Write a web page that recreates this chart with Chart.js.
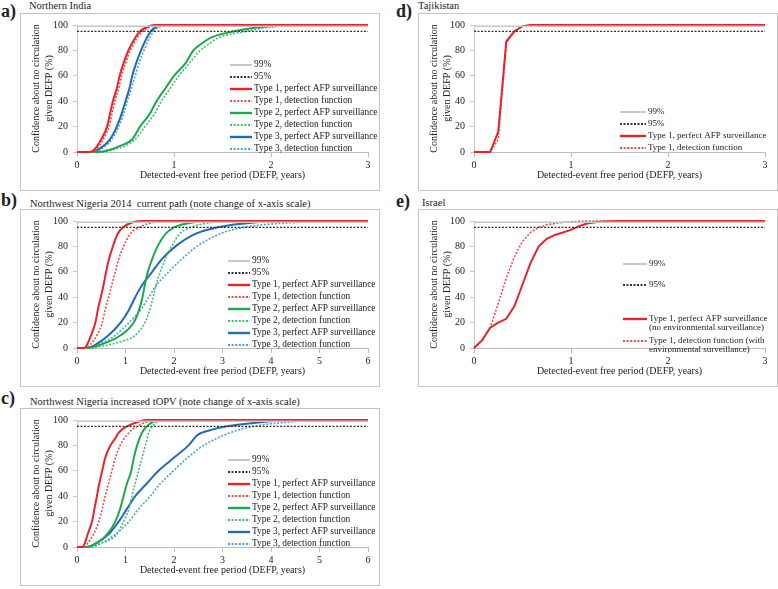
<!DOCTYPE html>
<html>
<head>
<meta charset="utf-8">
<script src="https://cdn.jsdelivr.net/npm/chart.js@4/dist/chart.umd.min.js"></script>
<style>
body { margin:0; background:#fff; width:778px; height:589px; position:relative; overflow:hidden; font-family:"Liberation Serif", "Times New Roman", serif; color:#222; }
.tag { position:absolute; font-weight:bold; font-size:18px; line-height:1; }
.ttl { position:absolute; font-size:10.5px; line-height:1; white-space:pre; }
.box { position:absolute; border:1px solid #c4c4c4; width:358px; height:176px; }
.box canvas { display:block; }
</style>
</head>
<body>

<div class="tag" style="left:1px;top:2px">a)</div>
<div class="ttl" style="left:29px;top:1px">Northern India</div>
<div class="box" style="left:20px;top:13px"><canvas id="pa" width="358" height="176"></canvas></div>

<div class="tag" style="left:1px;top:191px">b)</div>
<div class="ttl" style="left:30px;top:199px">Northwest Nigeria 2014  current path (note change of x-axis scale)</div>
<div class="box" style="left:20px;top:209px"><canvas id="pb" width="358" height="176"></canvas></div>

<div class="tag" style="left:1px;top:389px">c)</div>
<div class="ttl" style="left:30px;top:397px">Northwest Nigeria increased tOPV (note change of x-axis scale)</div>
<div class="box" style="left:20px;top:408px"><canvas id="pc" width="358" height="176"></canvas></div>

<div class="tag" style="left:396px;top:2px">d)</div>
<div class="ttl" style="left:418px;top:1px">Tajikistan</div>
<div class="box" style="left:418px;top:13px"><canvas id="pd" width="358" height="176"></canvas></div>

<div class="tag" style="left:396px;top:192px">e)</div>
<div class="ttl" style="left:422px;top:198px">Israel</div>
<div class="box" style="left:418px;top:209px"><canvas id="pe" width="358" height="176"></canvas></div>

<script>
// values: [years, confidence %]
var labelsABC = ["99%", "95%",
  "Type 1, perfect AFP surveillance", "Type 1, detection function",
  "Type 2, perfect AFP surveillance", "Type 2, detection function",
  "Type 3, perfect AFP surveillance", "Type 3, detection function"];
var labelsD = ["99%", "95%", "Type 1, perfect AFP surveillance", "Type 1, detection function"];
var labelsE = ["99%", "95%",
  "Type 1, perfect AFP surveillance\n(no environmental surveillance)",
  "Type 1, detection function (with\nenvironmental surveillance)"];
var xTicksShort = [0, 1, 2, 3];
var xTicksLong = [0, 1, 2, 3, 4, 5, 6];

// a) Northern India
var a_t1p = [[0,0],[0.13,0],[0.18,2],[0.25,10],[0.31,20],[0.34,30],[0.37,40],[0.41,50],[0.44,60],[0.48,70],[0.53,80],[0.6,90],[0.65,95],[0.74,99],[0.82,100],[3,100]];
var a_t1d = [[0,0],[0.14,0],[0.2,2],[0.27,10],[0.33,20],[0.36,30],[0.39,40],[0.43,50],[0.46,60],[0.5,70],[0.55,80],[0.62,90],[0.68,95],[0.77,99],[0.85,100],[3,100]];
var a_t2p = [[0,0],[0.2,0],[0.35,2],[0.45,5],[0.57,10],[0.65,20],[0.75,30],[0.82,40],[0.91,50],[1.0,60],[1.12,70],[1.2,80],[1.28,85],[1.38,90],[1.62,95],[1.85,98],[2.0,99],[2.3,100],[3,100]];
var a_t2d = [[0,0],[0.22,0],[0.38,2],[0.5,5],[0.6,10],[0.7,20],[0.8,30],[0.87,40],[0.96,50],[1.05,60],[1.16,70],[1.27,80],[1.36,85],[1.46,90],[1.75,95],[1.95,98],[2.1,99],[2.5,100],[3,100]];
var a_t3p = [[0,0],[0.15,0],[0.22,2],[0.34,10],[0.41,20],[0.46,30],[0.5,40],[0.54,50],[0.57,60],[0.61,70],[0.66,80],[0.72,90],[0.76,95],[0.83,99],[0.92,100],[3,100]];
var a_t3d = [[0,0],[0.16,0],[0.24,2],[0.36,10],[0.43,20],[0.48,30],[0.52,40],[0.56,50],[0.6,60],[0.64,70],[0.69,80],[0.75,90],[0.79,95],[0.87,99],[0.95,100],[3,100]];

// b) Northwest Nigeria 2014 current path
var b_t1p = [[0,0],[0.15,0],[0.2,2],[0.29,10],[0.38,20],[0.43,30],[0.49,40],[0.55,50],[0.6,60],[0.66,70],[0.74,80],[0.84,90],[0.95,95],[1.15,99],[1.35,100],[6,100]];
var b_t1d = [[0,0],[0.18,0],[0.28,3],[0.41,10],[0.52,20],[0.58,30],[0.65,40],[0.72,50],[0.79,60],[0.86,70],[0.96,80],[1.1,90],[1.28,95],[1.6,99],[2.0,100],[6,100]];
var b_t2p = [[0,0],[0.2,0],[0.65,5],[0.9,10],[1.17,20],[1.28,30],[1.35,40],[1.4,50],[1.46,60],[1.55,70],[1.66,80],[1.83,90],[2.0,95],[2.4,99],[2.8,100],[6,100]];
var b_t2d = [[0,0],[0.25,0],[0.6,2],[0.9,5],[1.2,10],[1.4,20],[1.5,30],[1.57,40],[1.63,50],[1.72,60],[1.82,70],[1.95,80],[2.12,90],[2.35,95],[2.8,99],[3.2,100],[6,100]];
var b_t3p = [[0,0],[0.2,0],[0.4,3],[0.65,10],[0.9,20],[1.07,30],[1.2,40],[1.35,50],[1.55,60],[1.75,70],[2.03,80],[2.45,90],[2.9,95],[3.7,99],[4.3,100],[6,100]];
var b_t3d = [[0,0],[0.2,0],[0.45,3],[0.79,10],[1.07,20],[1.31,30],[1.48,40],[1.65,50],[1.89,60],[2.16,70],[2.47,80],[2.96,90],[3.44,95],[4.6,99],[5.3,100],[6,100]];

// c) Northwest Nigeria increased tOPV
var c_t1p = [[0,0],[0.12,0],[0.16,3],[0.22,10],[0.31,20],[0.36,30],[0.41,40],[0.46,50],[0.52,60],[0.58,70],[0.69,80],[0.78,85],[0.86,90],[1.03,95],[1.3,99],[1.4,100],[6,100]];
var c_t1d = [[0,0],[0.15,0],[0.22,3],[0.34,10],[0.45,20],[0.52,30],[0.58,40],[0.65,50],[0.72,60],[0.79,70],[0.89,80],[1.07,90],[1.24,95],[1.5,99],[1.7,100],[6,100]];
var c_t2p = [[0,0],[0.2,0],[0.4,3],[0.62,10],[0.79,20],[0.89,30],[0.96,40],[1.03,50],[1.12,60],[1.17,70],[1.24,80],[1.34,90],[1.44,95],[1.58,99],[1.75,100],[6,100]];
var c_t2d = [[0,0],[0.25,0],[0.5,3],[0.82,10],[0.96,20],[1.07,30],[1.13,40],[1.2,50],[1.27,60],[1.34,70],[1.41,80],[1.48,90],[1.55,95],[1.68,99],[1.85,100],[6,100]];
var c_t3p = [[0,0],[0.2,0],[0.4,3],[0.65,10],[0.86,20],[1.03,30],[1.2,40],[1.44,50],[1.68,60],[1.99,70],[2.3,80],[2.48,88],[2.75,92],[3.1,95],[3.99,99],[4.3,100],[6,100]];
var c_t3d = [[0,0],[0.25,0],[0.5,3],[0.79,10],[1.07,20],[1.27,30],[1.51,40],[1.72,50],[1.99,60],[2.27,70],[2.61,80],[3.16,90],[3.64,95],[4.6,99],[5.2,100],[6,100]];

// d) Tajikistan (monthly steps)
var d_t1p = [[0,0],[0.167,0],[0.25,16],[0.333,87],[0.417,95],[0.5,99],[0.583,100],[3,100]];
var d_t1d = [[0,0],[0.167,0],[0.25,10],[0.333,86],[0.417,95],[0.5,99],[0.583,100],[3,100]];

// e) Israel (monthly steps)
var e_t1p = [[0,0],[0.083,6],[0.167,16],[0.25,20],[0.333,23],[0.417,33],[0.5,50],[0.583,67],[0.667,80],[0.75,86],[0.833,89],[0.917,91],[1.0,93],[1.083,96],[1.167,98],[1.25,99],[1.333,99.6],[1.5,100],[3,100]];
var e_t1d = [[0,0],[0.083,6],[0.167,16],[0.25,35],[0.333,55],[0.417,72],[0.5,84],[0.583,91],[0.667,95],[0.75,97],[0.833,98],[0.917,99],[1.0,99.5],[1.167,100],[3,100]];

var RED = '#e8242b', RED_D = '#ef4a4a';
var GREEN = '#1ea84e', GREEN_D = '#43bd6d';
var BLUE = '#1f6bb4', BLUE_D = '#4b9fde';
var FONT = '"Liberation Serif", "Times New Roman", serif';

function pts(arr) {
  return arr.map(function(p) { return {x: p[0], y: p[1]}; });
}

function line(label, arr, color, dotted, smooth) {
  return {
    label: label,
    data: pts(arr),
    borderColor: color,
    borderWidth: dotted ? 1.6 : 2,
    borderDash: dotted ? [2, 1.6] : [],
    pointRadius: 0,
    fill: false,
    clip: false,
    tension: 0,
    cubicInterpolationMode: smooth ? 'monotone' : 'default'
  };
}

function refLines(xMax) {
  return [
    {label: '99%', data: pts([[0,99],[xMax,99]]), borderColor: '#c6c6c6', borderWidth: 1.5, borderDash: [], pointRadius: 0, clip: false},
    {label: '95%', data: pts([[0,95],[xMax,95]]), borderColor: '#333', borderWidth: 1.4, borderDash: [2, 1.5], pointRadius: 0, clip: false}
  ];
}

// legend drawn inside the plot like the excel one
var boxLegend = {
  id: 'boxLegend',
  afterDatasetsDraw: function(chart, args, opts) {
    var ctx = chart.ctx, area = chart.chartArea;
    var x = area.left + opts.x, y = area.top + opts.y;
    ctx.save();
    ctx.font = opts.size + 'px ' + FONT;
    ctx.textBaseline = 'middle';
    chart.data.datasets.forEach(function(ds, i) {
      var ry = y + opts.rows[i];
      ctx.beginPath();
      ctx.strokeStyle = ds.borderColor;
      ctx.lineWidth = ds.borderWidth + 0.4;
      ctx.setLineDash(ds.borderDash || []);
      ctx.moveTo(x, ry);
      ctx.lineTo(x + opts.len, ry);
      ctx.stroke();
      ctx.fillStyle = '#222';
      ds.label.split('\n').forEach(function(t, j) {
        ctx.fillText(t, x + opts.len + 2, ry + j * opts.lh);
      });
    });
    ctx.restore();
  }
};

function makePanel(id, xTicks, series, legend) {
  var xMax = xTicks[xTicks.length - 1];
  var right = id === 'pd' || id === 'pe' ? 12 : 11;
  new Chart(document.getElementById(id), {
    type: 'line',
    data: { datasets: refLines(xMax).concat(series) },
    plugins: [boxLegend],
    options: {
      responsive: false,
      animation: false,
      layout: { padding: { top: 8, right: right, left: 0, bottom: 0 } },
      plugins: {
        legend: { display: false },
        tooltip: { enabled: false },
        boxLegend: legend
      },
      scales: {
        x: {
          type: 'linear', min: 0, max: xMax,
          afterFit: function(s) { s.height = 38; },
          afterBuildTicks: function(s) { s.ticks = xTicks.map(function(v) { return {value: v}; }); },
          ticks: { color: '#222', font: { family: FONT, size: 10 }, padding: 2, maxRotation: 0 },
          grid: { display: true, drawOnChartArea: false, drawTicks: true, tickLength: 5, color: '#bdbdbd' },
          border: { color: '#bdbdbd' },
          title: { display: true, text: 'Detected-event free period (DEFP, years)', color: '#222',
                   font: { family: FONT, size: 10 }, padding: { top: 0, bottom: 9 } }
        },
        y: {
          min: 0, max: 100,
          afterFit: function(s) { s.width = id === 'pd' || id === 'pe' ? 55 : 56; },
          ticks: { stepSize: 10, color: '#222', font: { family: FONT, size: 10 }, padding: 5 },
          grid: { display: true, drawOnChartArea: false, drawTicks: true, tickLength: 4, color: '#c8c8c8' },
          border: { color: '#c8c8c8' },
          title: { display: true, text: ['Confidence about no circulation', 'given DEFP (%)'], color: '#222',
                   font: { family: FONT, size: 10, lineHeight: 1.3 }, padding: { top: 9, bottom: 0 } }
        }
      }
    }
  });
}

var rowsABC = [0, 12, 24, 36, 48, 60, 72, 84];

makePanel('pa', xTicksShort, [
  line(labelsABC[2], a_t1p, RED, false, true),
  line(labelsABC[3], a_t1d, RED_D, true, true),
  line(labelsABC[4], a_t2p, GREEN, false, true),
  line(labelsABC[5], a_t2d, GREEN_D, true, true),
  line(labelsABC[6], a_t3p, BLUE, false, true),
  line(labelsABC[7], a_t3d, BLUE_D, true, true)
], { x: 153, y: 40, len: 22, rows: rowsABC, lh: 10, size: 9.4 });

makePanel('pb', xTicksLong, [
  line(labelsABC[2], b_t1p, RED, false, true),
  line(labelsABC[3], b_t1d, RED_D, true, true),
  line(labelsABC[4], b_t2p, GREEN, false, true),
  line(labelsABC[5], b_t2d, GREEN_D, true, true),
  line(labelsABC[6], b_t3p, BLUE, false, true),
  line(labelsABC[7], b_t3d, BLUE_D, true, true)
], { x: 151, y: 40, len: 22, rows: rowsABC, lh: 10, size: 9.4 });

makePanel('pc', xTicksLong, [
  line(labelsABC[2], c_t1p, RED, false, true),
  line(labelsABC[3], c_t1d, RED_D, true, true),
  line(labelsABC[4], c_t2p, GREEN, false, true),
  line(labelsABC[5], c_t2d, GREEN_D, true, true),
  line(labelsABC[6], c_t3p, BLUE, false, true),
  line(labelsABC[7], c_t3d, BLUE_D, true, true)
], { x: 151, y: 40, len: 22, rows: rowsABC, lh: 10, size: 9.4 });

makePanel('pd', xTicksShort, [
  line(labelsD[2], d_t1p, RED, false, false),
  line(labelsD[3], d_t1d, RED_D, true, false)
], { x: 146, y: 87, len: 26, rows: [0, 12, 24, 36], lh: 10, size: 9 });

makePanel('pe', xTicksShort, [
  line(labelsE[2], e_t1p, RED, false, false),
  line(labelsE[3], e_t1d, RED_D, true, false)
], { x: 149, y: 43, len: 24, rows: [0, 21, 55, 77], lh: 9, size: 9 });
</script>
</body>
</html>
